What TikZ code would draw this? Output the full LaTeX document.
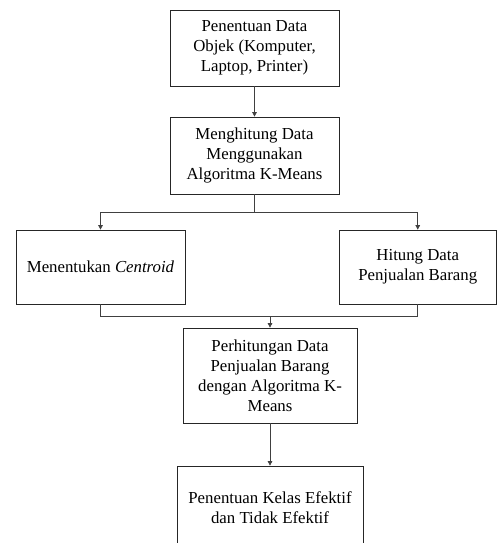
\documentclass[tikz,border=0pt]{standalone}
\usepackage{fontspec}
\setmainfont{Liberation Serif}
\usetikzlibrary{arrows.meta}
\begin{document}
\begin{tikzpicture}[x=1pt,y=-1pt,
  box/.style={draw=black!85, line width=0.7pt, align=center,
    font=\fontsize{16.8}{20}\selectfont, inner sep=0pt},
  link/.style={draw=black!75, line width=0.6pt},
  tip/.style={link, -{Triangle[width=4.5pt,length=4.5pt]}}]
\useasboundingbox (0,0) rectangle (497,543);
\clip (0,0) rectangle (497,543);

\node[box, minimum width=169pt, minimum height=76pt] (objek) at (254.5,48)
  {Penentuan Data\\Objek (Komputer,\\Laptop, Printer)};
\node[box, minimum width=169pt, minimum height=77pt] (hitung) at (254.5,155.5)
  {Menghitung Data\\Menggunakan\\Algoritma K-Means};
\node[box, minimum width=169pt, minimum height=74pt] (centroid) at (100.5,267)
  {Menentukan \textit{Centroid}};
\node[box, minimum width=157.5pt, minimum height=74pt] (penjualan) at (417.75,267)
  {Hitung Data\\Penjualan Barang};
\node[box, minimum width=174pt, minimum height=95pt] (perhitungan) at (270,375.5)
  {Perhitungan Data\\Penjualan Barang\\dengan Algoritma K-\\Means};
\node[box, minimum width=186pt, minimum height=84pt] (kelas) at (270,508)
  {Penentuan Kelas Efektif\\dan Tidak Efektif};

\coordinate (split) at (254.5,212);
\coordinate (merge) at (270,316);

\draw[tip] (objek.south) -- (hitung.north);
\draw[link] (hitung.south) -- (split);
\draw[tip] (split) -| (centroid.north);
\draw[tip] (split) -| (penjualan.north);
\draw[link] (centroid.south) |- (merge);
\draw[link] (penjualan.south) |- (merge);
\draw[tip] (merge) -- (perhitungan.north);
\draw[tip] (perhitungan.south) -- (kelas.north);
\end{tikzpicture}
\end{document}
